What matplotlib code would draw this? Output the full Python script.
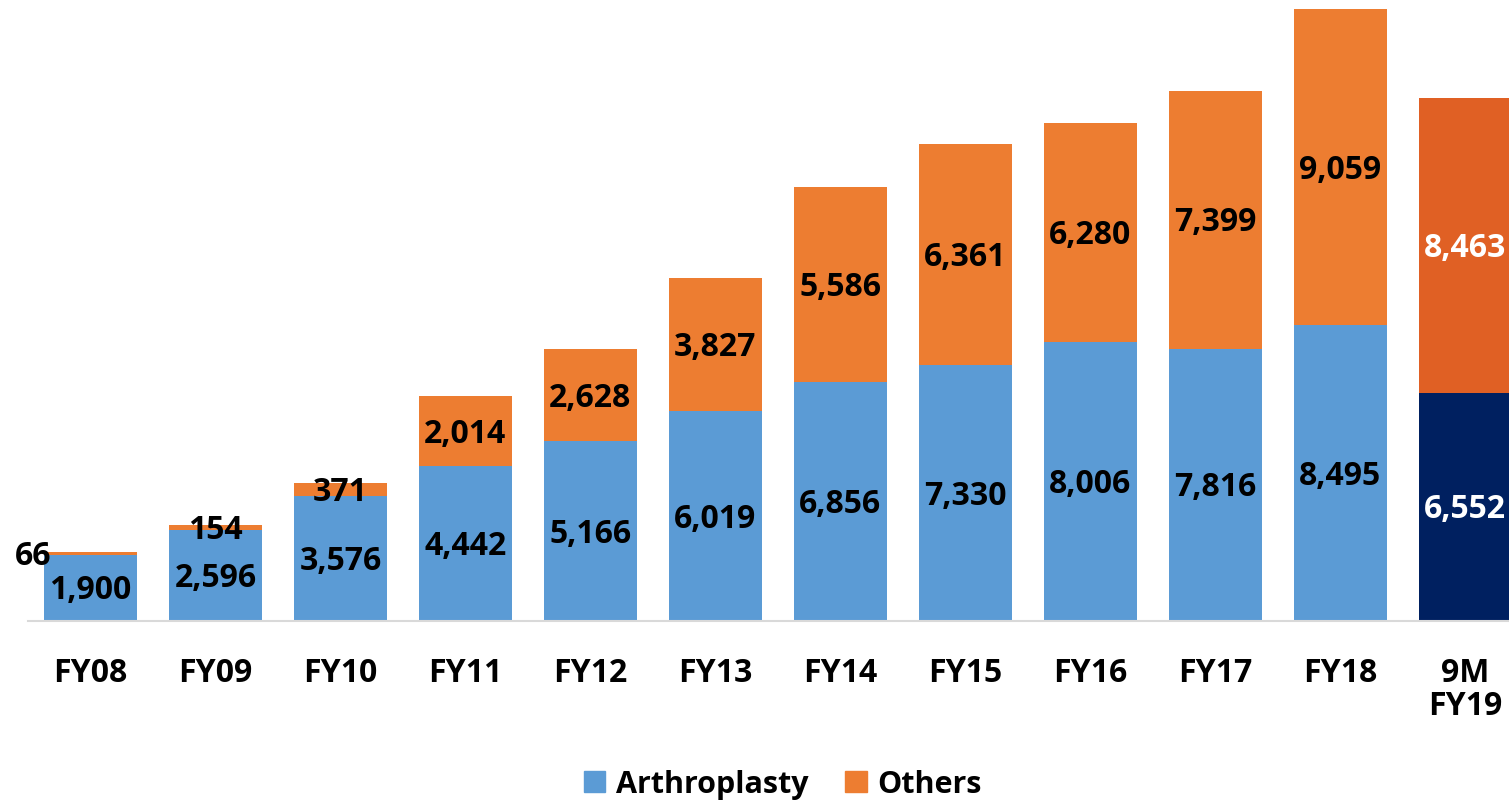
import matplotlib.pyplot as plt
import numpy as np

plt.rcParams['font.family'] = ['Open Sans', 'DejaVu Sans']
plt.rcParams['font.weight'] = 'bold'

categories = ['FY08', 'FY09', 'FY10', 'FY11', 'FY12', 'FY13', 'FY14',
              'FY15', 'FY16', 'FY17', 'FY18', '9M\nFY19']
arthroplasty = [1900, 2596, 3576, 4442, 5166, 6019, 6856, 7330, 8006, 7816, 8495, 6552]
others = [66, 154, 371, 2014, 2628, 3827, 5586, 6361, 6280, 7399, 9059, 8463]

blue, orange = '#5B9BD5', '#ED7D31'
navy, dark_orange = '#002060', '#E06024'

fig = plt.figure(figsize=(15.09, 8.04), dpi=100)
W, H = 1509, 804
# axes placed in pixel terms: left 28, right 1509, baseline 622, top 0
ax = fig.add_axes([28 / W, 1 - 622 / H, (1509 - 28) / W, 622 / H])

n = np.arange(len(categories))
width = 0.74
c_a = [blue] * (len(n) - 1) + [navy]
c_o = [orange] * (len(n) - 1) + [dark_orange]
ax.bar(n, arthroplasty, width, color=c_a, label='Arthroplasty')
ax.bar(n, others, width, bottom=arthroplasty, color=c_o, label='Others')

ax.set_xlim(-0.5, 11.35)
ax.set_ylim(0, 17841)

fs = 23
for i in n:
    tc = 'white' if i == len(n) - 1 else 'black'
    ax.text(i, arthroplasty[i] / 2 - 60, f'{arthroplasty[i]:,}', ha='center', va='center',
            fontsize=fs, fontweight='bold', color=tc)
    x = i - 0.456 if i == 0 else i
    ax.text(x, arthroplasty[i] + others[i] / 2 - 60, f'{others[i]:,}', ha='center', va='center',
            fontsize=fs, fontweight='bold', color=tc)

for s in ['top', 'right', 'left']:
    ax.spines[s].set_visible(False)
ax.spines['bottom'].set_color('#d9d9d9')
ax.spines['bottom'].set_linewidth(1.5)
ax.set_yticks([])
ax.set_xticks(n)
ax.set_xticklabels(categories, fontsize=fs, fontweight='bold', linespacing=1.0, va='top')
ax.tick_params(axis='x', length=0, pad=25)

handles = [plt.Rectangle((0, 0), 1, 1, color=blue), plt.Rectangle((0, 0), 1, 1, color=orange)]
fig.legend(handles, ['Arthroplasty', 'Others'], loc='center', bbox_to_anchor=(783 / W, 1 - 785 / H),
           ncol=2, frameon=False, prop={'size': 22, 'weight': 'bold'},
           handlelength=0.7, handleheight=0.7, handletextpad=0.35, columnspacing=1.2)

fig.savefig('out.png', dpi=100)
